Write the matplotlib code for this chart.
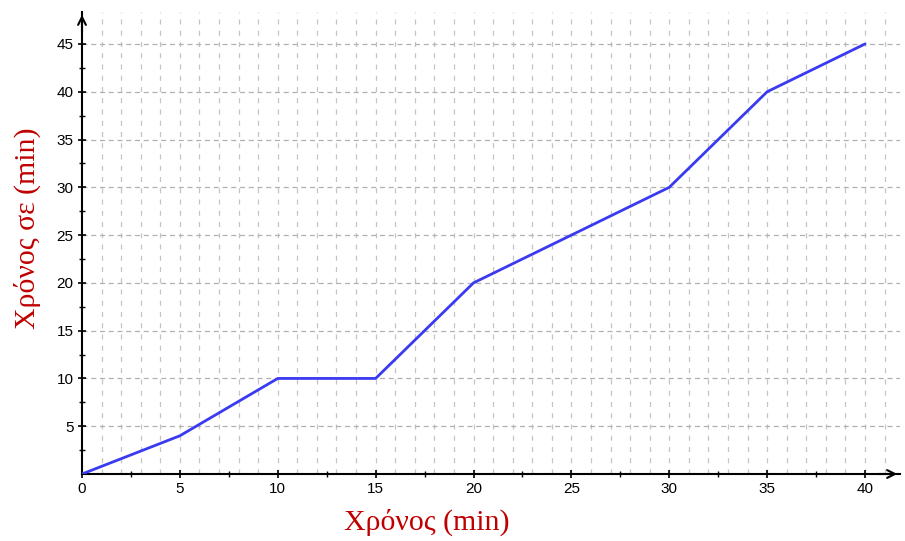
import matplotlib
matplotlib.use("Agg")
import matplotlib.pyplot as plt
import numpy as np

time_x = [0, 5, 10, 15, 20, 30, 35, 40]
time_y = [0, 4, 10, 10, 20, 30, 40, 45]
x_ticks = [0, 5, 10, 15, 20, 25, 30, 35, 40]
y_ticks = [5, 10, 15, 20, 25, 30, 35, 40, 45]
x_label = "Χρόνος (min)"
y_label = "Χρόνος σε (min)"

W, H = 905, 541
fig = plt.figure(figsize=(W / 100, H / 100), dpi=100)
left_px, right_px, bottom_px, top_px = 82, 900, 474, 12
ax = fig.add_axes([left_px / W, 1 - bottom_px / H,
                   (right_px - left_px) / W, (bottom_px - top_px) / H])
xmax = (right_px - left_px) / 19.575
ymax = (bottom_px - top_px) / 9.556
ax.set_xlim(0, xmax)
ax.set_ylim(0, ymax)

# grid
for gx in range(1, 42):
    ax.axvline(gx, color="#c4c4c4", lw=0.9, ls=(0, (4, 5)), zorder=0)
for gy in y_ticks:
    ax.axhline(gy, color="#b0b0b0", lw=0.9, ls=(0, (4, 3)), zorder=0)

ax.plot(time_x, time_y, color="#3a3af2", lw=2, zorder=3, solid_capstyle="round")

for s in ["top", "right"]:
    ax.spines[s].set_visible(False)
for s in ["left", "bottom"]:
    ax.spines[s].set_linewidth(1.5)
    ax.spines[s].set_color("black")

ax.set_xticks(x_ticks)
ax.set_yticks(y_ticks)
ax.set_xticks(np.arange(2.5, 40, 5), minor=True)
ax.set_yticks(np.arange(2.5, 45, 5), minor=True)
ax.tick_params(axis="both", which="major", direction="inout", length=6, width=1.2,
               labelsize=11, pad=3, colors="black")
ax.tick_params(axis="both", which="minor", direction="inout", length=4, width=1.0)
for lab in ax.get_xticklabels() + ax.get_yticklabels():
    lab.set_family("Liberation Sans")

# arrows
ax.annotate("", xy=(1.0, 0), xytext=(0.97, 0), xycoords="axes fraction",
            arrowprops=dict(arrowstyle="->", lw=1.5, color="black", mutation_scale=14),
            annotation_clip=False)
ax.annotate("", xy=(0, 1.0), xytext=(0, 0.95), xycoords="axes fraction",
            arrowprops=dict(arrowstyle="->", lw=1.5, color="black", mutation_scale=14),
            annotation_clip=False)

fig.text(427 / W, 1 - 522 / H, x_label, color="#c00000", fontsize=21.5,
         family="Liberation Serif", ha="center", va="center")
fig.text(27 / W, 1 - 228 / H, y_label, color="#c00000", fontsize=21.5,
         family="Liberation Serif", ha="center", va="center", rotation=90)

fig.savefig("out.png", dpi=100)
